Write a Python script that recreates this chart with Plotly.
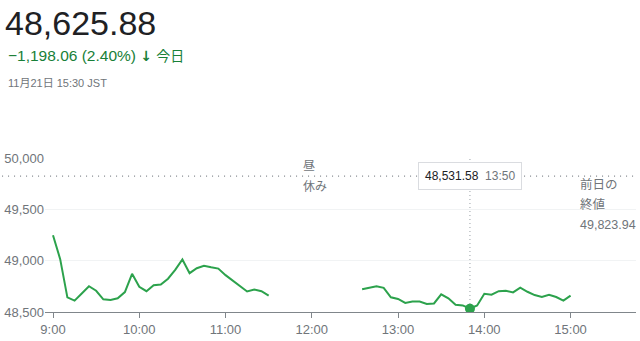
import plotly.graph_objects as go
import pandas as pd

DAY = "2025-11-21 "

am_times = ["09:00","09:05","09:10","09:15","09:20","09:25","09:30","09:35","09:40","09:45",
            "09:50","09:55","10:00","10:05","10:10","10:15","10:20","10:25","10:30","10:35",
            "10:40","10:45","10:50","10:55","11:00","11:05","11:10","11:15","11:20","11:25","11:30"]
am_values = [49247,49015,48643,48611,48681,48751,48707,48624,48618,48633,
             48694,48872,48745,48703,48761,48767,48824,48910,49012,48878,
             48926,48951,48935,48923,48859,48808,48754,48700,48719,48703,48659]

pm_times = ["12:35","12:40","12:45","12:50","12:55","13:00","13:05","13:10","13:15","13:20",
            "13:25","13:30","13:35","13:40","13:45","13:50","13:55","14:00","14:05","14:10",
            "14:15","14:20","14:25","14:30","14:35","14:40","14:45","14:50","14:55","15:00"]
pm_values = [48722,48738,48751,48735,48643,48627,48589,48602,48602,48579,
             48583,48672,48633,48570,48564,48531.58,48564,48678,48668,48703,
             48707,48691,48738,48697,48665,48646,48668,48646,48611,48659]

prev_close = 49823.94
hover_time = "13:50"
hover_value = 48531.58

y_ticks = [48500, 49000, 49500, 50000]
y_ticktext = ["48,500", "49,000", "49,500", "50,000"]
x_ticks = ["09:00","10:00","11:00","12:00","13:00","14:00","15:00"]
x_ticktext = ["9:00","10:00","11:00","12:00","13:00","14:00","15:00"]

title_price = "48,625.88"
change_text = "−1,198.06 (2.40%)"
today_text = "今日"
date_text = "11月21日 15:30 JST"
lunch_text = ["昼", "休み"]
prev_close_labels = ["前日の", "終値", "49,823.94"]

GREEN = "#2ca24c"
TGREEN = "#188038"
GRAY = "#70757a"
FONT = "Liberation Sans, Arial, Noto Sans CJK JP, sans-serif"

def ts(t):
    return pd.Timestamp(DAY + t)

xs = [ts(t) for t in am_times] + [ts("12:00")] + [ts(t) for t in pm_times]
ys = am_values + [None] + pm_values

W, H = 640, 341
L, R, T, B = 44, 4, 158, 25
PW, PH = W - L - R, H - T - B

def px(x):
    return (x - L) / PW

def py(y):
    return (H - B - y) / PH

fig = go.Figure()
fig.add_trace(go.Scatter(x=xs, y=ys, mode="lines", line=dict(color=GREEN, width=2),
                         connectgaps=False, hoverinfo="skip", showlegend=False))
fig.add_trace(go.Scatter(x=[ts(hover_time)], y=[hover_value], mode="markers",
                         marker=dict(color=GREEN, size=10), hoverinfo="skip", showlegend=False))

# previous close dotted line
fig.add_shape(type="line", xref="paper", yref="y", x0=px(1), x1=1, y0=prev_close, y1=prev_close,
              line=dict(color="#80868b", width=1.3, dash="1px,5px"), layer="above")
# hover vertical dotted line
fig.add_shape(type="line", xref="x", yref="paper", x0=ts(hover_time), x1=ts(hover_time), y0=0, y1=1,
              line=dict(color="#9aa0a6", width=1, dash="1px,3px"), layer="below")

ann = []
ann.append(dict(text=title_price, x=px(2), y=py(19), xanchor="left", yanchor="middle",
                font=dict(size=34, color="#202124", family=FONT)))
ann.append(dict(text=change_text
                + " <span style='font-family:DejaVu Sans;font-weight:bold;font-size:14px'>↓</span> "
                + f"<span style='font-size:14px'>{today_text}</span>",
                x=px(5), y=py(53),
                xanchor="left", yanchor="middle", font=dict(size=15.5, color=TGREEN, family=FONT)))
ann.append(dict(text=date_text, x=px(5), y=py(81), xanchor="left", yanchor="middle",
                font=dict(size=11, color=GRAY, family=FONT)))
ann.append(dict(text=lunch_text[0], x=px(300), y=py(166), xanchor="left", yanchor="middle",
                font=dict(size=12, color=GRAY, family=FONT)))
ann.append(dict(text=lunch_text[1], x=px(300), y=py(188), xanchor="left", yanchor="middle",
                font=dict(size=12, color=GRAY, family=FONT)))
for lab, yy in zip(prev_close_labels, [185, 206, 227]):
    ann.append(dict(text=lab, x=px(578), y=py(yy), xanchor="left", yanchor="middle",
                    font=dict(size=12.5, color=GRAY, family=FONT)))
ann.append(dict(text=f"{hover_value:,.2f}&nbsp;&nbsp;<span style='color:{GRAY}'>{hover_time}</span>",
                x=ts(hover_time), xref="x", y=py(176.5), yref="paper", xanchor="center", yanchor="middle",
                bgcolor="white", bordercolor="#dadce0", borderwidth=1, borderpad=6,
                font=dict(size=12, color="#202124", family=FONT)))
for a in ann:
    a.setdefault("xref", "paper")
    a.setdefault("yref", "paper")
    a["showarrow"] = False

fig.update_layout(
    width=W, height=H,
    margin=dict(l=L, r=R, t=T, b=B),
    paper_bgcolor="white", plot_bgcolor="white",
    annotations=ann,
    font=dict(family=FONT, color=GRAY),
    xaxis=dict(type="date", range=[pd.Timestamp(DAY + "08:54:26"), pd.Timestamp(DAY + "15:45:30")],
               tickvals=[ts(t) for t in x_ticks], ticktext=x_ticktext,
               showgrid=False, zeroline=False, showline=True, linecolor="#80868b", linewidth=1,
               ticks="outside", ticklen=5, tickcolor="#80868b", tickfont=dict(size=13, color=GRAY)),
    yaxis=dict(range=[48500, 50000], tickvals=y_ticks, ticktext=y_ticktext,
               showgrid=True, gridcolor="#f1f3f4", gridwidth=1, zeroline=False, showline=False,
               ticks="", tickfont=dict(size=13, color=GRAY)),
)

fig.write_html("out.html")
